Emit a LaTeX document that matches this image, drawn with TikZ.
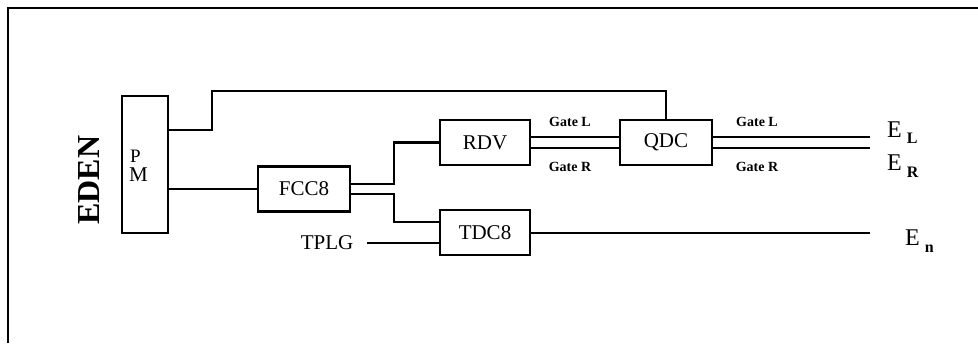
\documentclass[tikz,border=0pt]{standalone}
\usepackage{fontspec}
\setmainfont{Liberation Serif}
\begin{document}
\begin{tikzpicture}[x=1pt,y=-1pt,
  wire/.style={line width=2.3pt},
  blk/.style={draw,line width=2.3pt,rectangle,inner sep=0pt,
    font=\fontsize{21}{22}\selectfont},
  gate/.style={font=\fontsize{14}{15}\selectfont\bfseries,inner sep=0pt},
  elab/.style={anchor=base west,inner sep=0pt,font=\fontsize{24}{24}\selectfont}]
\useasboundingbox (0,0) rectangle (978,343);
% frame (top and left edges)
\draw[line width=2.3pt] (8,343) -- (8,8) -- (978,8);
% blocks
\node[blk,minimum width=46pt,minimum height=137pt] (PM) at (145,164.5) {};
\node[anchor=west,inner sep=0pt,font=\fontsize{19}{20}\selectfont] (P) at (130,156) {P};
\node[anchor=west,inner sep=0pt,font=\fontsize{21}{20}\selectfont] (M) at (129,175) {M};
\node[blk,minimum width=92pt,minimum height=45pt] (FCC) at (304,189) {FCC8};
\node[blk,minimum width=90pt,minimum height=45pt] (RDV) at (485,142.5) {RDV};
\node[blk,minimum width=90pt,minimum height=45pt] (TDC) at (485,232.5) {TDC8};
\node[blk,minimum width=92pt,minimum height=45pt] (QDC) at (666,142.5) {QDC};
\node[rotate=90,inner sep=0pt,font=\fontsize{32}{32}\selectfont\bfseries] (EDEN) at (89,180) {EDEN};
\node[inner sep=0pt,font=\fontsize{21}{22}\selectfont] (TPLG) at (327,243) {TPLG};
% gate labels
\node[gate] (gl1) at (570,122) {Gate L};
\node[gate] (gr1) at (570,167) {Gate R};
\node[gate] (gl2) at (757,122) {Gate L};
\node[gate] (gr2) at (757,167) {Gate R};
% outputs
\node[elab] (EL) at (887,137) {E\hspace{5pt}\raisebox{-6pt}{\fontsize{16}{16}\selectfont\bfseries L}};
\node[elab] (ER) at (887,170) {E\hspace{5pt}\raisebox{-7pt}{\fontsize{16}{16}\selectfont\bfseries R}};
\node[elab] (En) at (905,245) {E\hspace{5pt}\raisebox{-7pt}{\fontsize{16}{16}\selectfont\bfseries n}};
\coordinate (oL) at (870,137);
\coordinate (oR) at (870,148);
\coordinate (on) at (870,233);
\coordinate (tp) at (367,243);
% connectors
\draw[wire] ([yshift=34.5pt]PM.east) -- ++(43,0) |- (211,91) -| (QDC.north);
\draw[wire] (FCC.west -| PM.east) -- (FCC.west);
\draw[wire] ([yshift=5pt]FCC.east) -| (394,184) |- (RDV.west);
\draw[wire] ([yshift=-5pt]FCC.east) -| (394,194) |- ([yshift=10.5pt]TDC.west);
\draw[wire] (tp) -- ([yshift=-10.5pt]TDC.west);
\draw[wire] ([yshift=5.5pt]RDV.east) -- ([yshift=5.5pt]QDC.west);
\draw[wire] ([yshift=-5.5pt]RDV.east) -- ([yshift=-5.5pt]QDC.west);
\draw[wire] ([yshift=5.5pt]QDC.east) -- (oL);
\draw[wire] ([yshift=-5.5pt]QDC.east) -- (oR);
\draw[wire] (TDC.east |- on) -- (on);
\end{tikzpicture}
\end{document}
